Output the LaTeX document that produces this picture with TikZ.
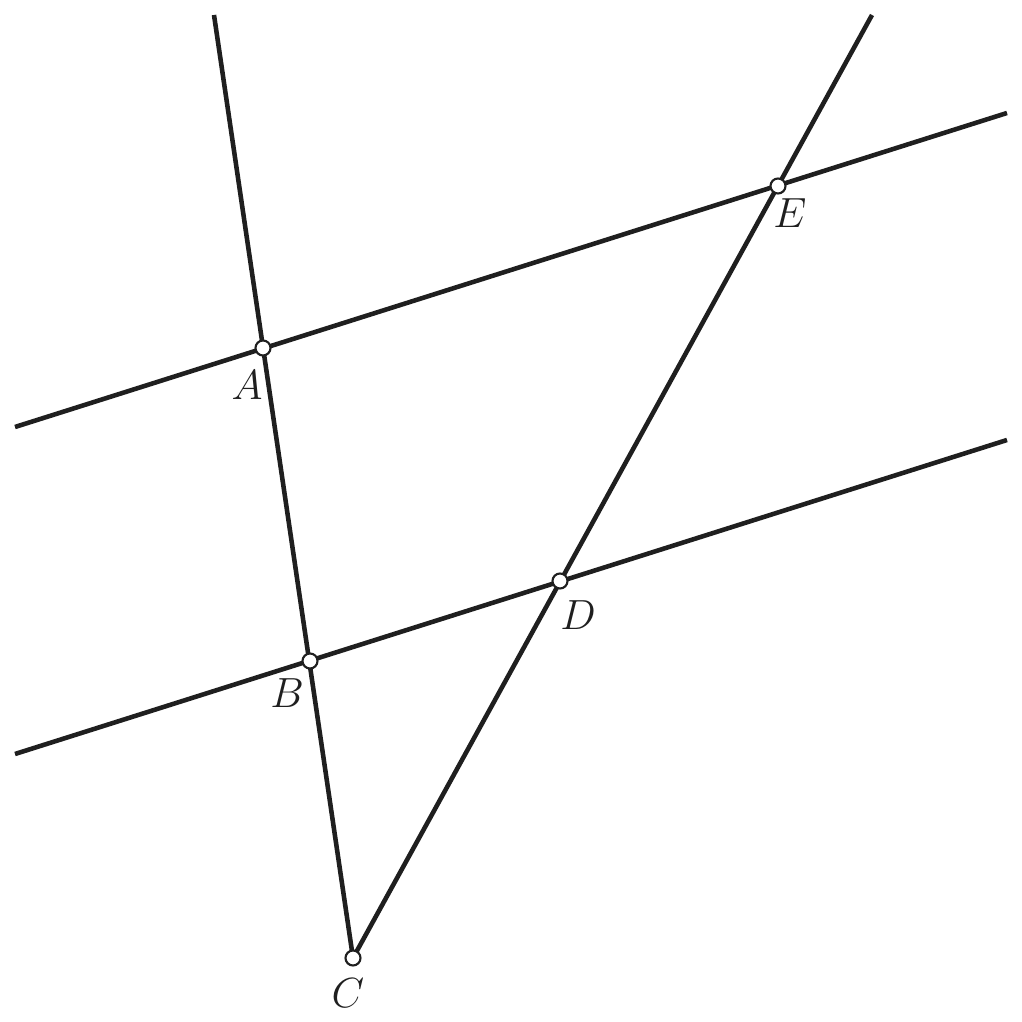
\documentclass[tikz,border=0pt]{standalone}
\begin{document}
\begin{tikzpicture}[line width=1.3pt, black!88,
    pt/.style={draw, circle, fill=white, inner sep=0pt, minimum size=0.15cm, line width=0.6pt},
    lbl/.style={font=\large, inner sep=0pt}]
    \useasboundingbox (0,0) rectangle (10.22,10.22);

    \coordinate (A) at (2.63, 6.74);
    \coordinate (B) at (3.10, 3.61);
    \coordinate (C) at (3.53, 0.64);
    \coordinate (D) at (5.60, 4.41);
    \coordinate (E) at (7.78, 8.36);
    \coordinate (T1) at (2.14, 10.07);
    \coordinate (T2) at (8.72, 10.07);
    \coordinate (L1) at (0.15, 5.95);
    \coordinate (R1) at (10.07, 9.09);
    \coordinate (L2) at (0.15, 2.68);
    \coordinate (R2) at (10.07, 5.82);

    \draw (T1) -- (C) -- (T2);
    \draw (L1) -- (R1);
    \draw (L2) -- (R2);

    \node[pt] at (A) (pA) {};
    \node[pt] at (B) (pB) {};
    \node[pt] at (C) (pC) {};
    \node[pt] at (D) (pD) {};
    \node[pt] at (E) (pE) {};

    \node[lbl] at (2.47, 6.37) (lA) {$A$};
    \node[lbl] at (2.87, 3.29) (lB) {$B$};
    \node[lbl] at (3.48, 0.29) (lC) {$C$};
    \node[lbl] at (5.78, 4.07) (lD) {$D$};
    \node[lbl] at (7.90, 8.09) (lE) {$E$};
\end{tikzpicture}
\end{document}
